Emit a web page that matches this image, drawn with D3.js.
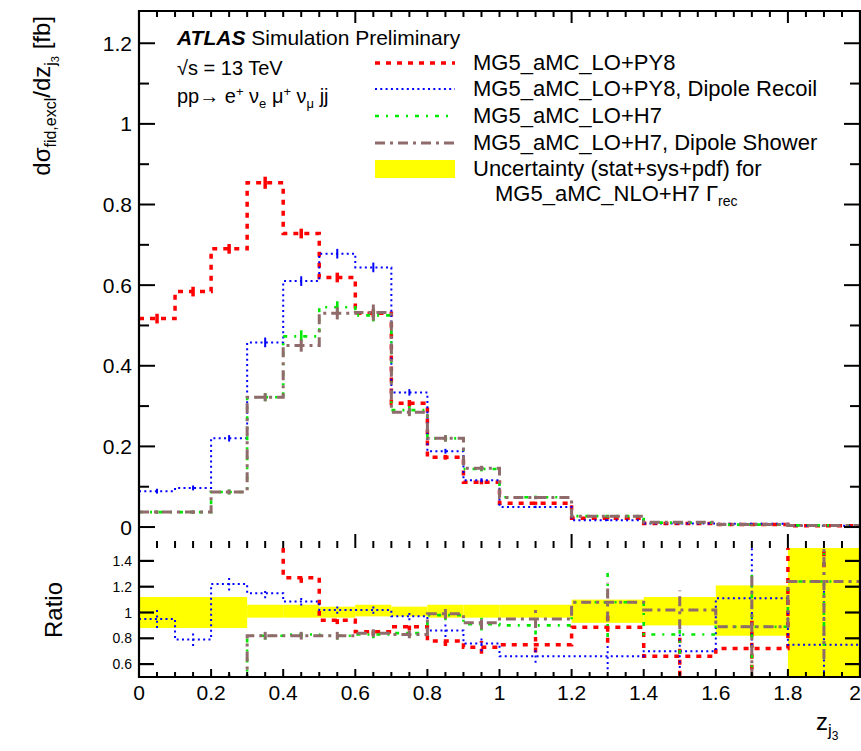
<!DOCTYPE html>
<html><head><meta charset="utf-8">
<script src="https://cdn.jsdelivr.net/npm/d3@7/dist/d3.min.js"></script>
<style>
html,body{margin:0;padding:0;background:#fff;overflow:hidden}
svg{display:block;font-family:"Liberation Sans",Arial,Helvetica,sans-serif}
</style></head><body>
<svg id="chart" width="861" height="751"></svg>
<script>
// Bin edges of z_j3 (10 narrow bins, then 5 wide bins)
const binEdges = [0, 0.1, 0.2, 0.3, 0.4, 0.5, 0.6, 0.7, 0.8, 0.9, 1.0, 1.2, 1.4, 1.6, 1.8, 2.0];

// Differential cross sections [fb] per bin
const xsPY8      = [0.517, 0.584, 0.690, 0.854, 0.728, 0.619, 0.530, 0.307, 0.173, 0.111, 0.059, 0.022, 0.009, 0.006, 0.003];
const xsPY8Dip   = [0.089, 0.097, 0.220, 0.458, 0.610, 0.678, 0.644, 0.334, 0.188, 0.116, 0.050, 0.017, 0.009, 0.008, 0.003];
const xsH7       = [0.037, 0.037, 0.087, 0.322, 0.473, 0.545, 0.525, 0.290, 0.220, 0.144, 0.074, 0.027, 0.011, 0.006, 0.004];
const xsH7Dip    = [0.037, 0.037, 0.087, 0.322, 0.450, 0.530, 0.532, 0.285, 0.220, 0.146, 0.073, 0.027, 0.012, 0.006, 0.004];

// Statistical errors on the cross sections
const errPY8     = [0.012, 0.012, 0.012, 0.015, 0.012, 0.012, 0.010, 0.008, 0.006, 0.005, 0.004, 0.003, 0.002, 0.002, 0.001];
const errPY8Dip  = [0.006, 0.006, 0.008, 0.012, 0.012, 0.012, 0.012, 0.008, 0.006, 0.005, 0.003, 0.002, 0.002, 0.002, 0.001];
const errH7      = [0.004, 0.004, 0.006, 0.010, 0.015, 0.015, 0.015, 0.010, 0.008, 0.006, 0.004, 0.003, 0.002, 0.002, 0.001];
const errH7Dip   = [0.004, 0.004, 0.006, 0.010, 0.015, 0.015, 0.020, 0.010, 0.008, 0.006, 0.004, 0.003, 0.002, 0.002, 0.001];

// Ratios to MG5_aMC_NLO+H7
const ratioPY8    = [5.50, 4.75, 3.83, 2.15, 1.27, 0.94, 0.85, 0.89, 0.78, 0.73, 0.75, 0.885, 0.66, 0.72, 1.70];
const ratioPY8Dip = [0.95, 0.79, 1.22, 1.15, 1.085, 1.02, 1.02, 0.97, 0.86, 0.76, 0.66, 0.66, 0.70, 1.11, 0.75];
const ratioH7     = [0.39, 0.30, 0.48, 0.82, 0.83, 0.82, 0.83, 0.84, 0.98, 0.91, 0.90, 1.08, 0.83, 0.89, 1.24];
const ratioH7Dip  = [0.39, 0.30, 0.48, 0.82, 0.82, 0.82, 0.84, 0.83, 0.99, 0.92, 0.95, 1.08, 1.02, 0.89, 1.24];

const rErrPY8     = [0.30, 0.30, 0.20, 0.08, 0.04, 0.03, 0.03, 0.03, 0.04, 0.05, 0.06, 0.12, 0.15, 0.25, 0.35];
const rErrPY8Dip  = [0.07, 0.05, 0.05, 0.04, 0.03, 0.03, 0.03, 0.03, 0.05, 0.06, 0.05, 0.10, 0.13, 0.45, 0.50];
const rErrH7      = [0.03, 0.03, 0.04, 0.03, 0.03, 0.03, 0.03, 0.03, 0.04, 0.05, 0.07, 0.27, 0.15, 0.40, 0.50];
const rErrH7Dip   = [0.03, 0.03, 0.04, 0.03, 0.03, 0.03, 0.03, 0.03, 0.04, 0.05, 0.07, 0.15, 0.15, 0.40, 0.60];

// NLO+H7 total uncertainty band (relative)
const bandHi = [1.12, 1.12, 1.12, 1.06, 1.06, 1.045, 1.06, 1.045, 1.06, 1.06, 1.06, 1.10, 1.12, 1.21, 1.60];
const bandLo = [0.88, 0.88, 0.88, 0.96, 0.96, 0.96, 0.97, 0.97, 0.96, 0.96, 0.96, 0.92, 0.90, 0.82, 0.40];

const xTicksLabels = [0, 0.2, 0.4, 0.6, 0.8, 1, 1.2, 1.4, 1.6, 1.8, 2];
const yTopLabels = [0, 0.2, 0.4, 0.6, 0.8, 1, 1.2];
const yRatioLabels = [0.6, 0.8, 1, 1.2, 1.4];

const series = [
  {label: "MG5_aMC_LO+PY8", color: "#ff0000", dash: "5,6", width: 3.5, xs: xsPY8, err: errPY8, ratio: ratioPY8, rerr: rErrPY8},
  {label: "MG5_aMC_LO+PY8, Dipole Recoil", color: "#0000ff", dash: "2,3.3", width: 2, xs: xsPY8Dip, err: errPY8Dip, ratio: ratioPY8Dip, rerr: rErrPY8Dip},
  {label: "MG5_aMC_LO+H7", color: "#00e800", dash: "4,7,2,7", width: 2.6, xs: xsH7, err: errH7, ratio: ratioH7, rerr: rErrH7},
  {label: "MG5_aMC_LO+H7, Dipole Shower", color: "#8f6b6b", dash: "10,5,3,5", width: 3, xs: xsH7Dip, err: errH7Dip, ratio: ratioH7Dip, rerr: rErrH7Dip}
];

const svg = d3.select("#chart");
svg.append("rect").attr("width", 861).attr("height", 751).attr("fill", "#fff");

const left = 139, right = 860, topY = 11, midY = 548, botY = 677;
const x = d3.scaleLinear().domain([0, 2]).range([left, right]);
const yTop = d3.scaleLinear().domain([-0.052, 1.28]).range([midY, topY]);
const yRat = d3.scaleLinear().domain([0.5, 1.5]).range([botY, midY]);

const defs = svg.append("defs");
defs.append("clipPath").attr("id", "clipTop").append("rect")
  .attr("x", left).attr("y", topY).attr("width", right - left).attr("height", midY - topY);
defs.append("clipPath").attr("id", "clipRat").append("rect")
  .attr("x", left).attr("y", midY).attr("width", right - left).attr("height", botY - midY);

const bins = d3.range(binEdges.length - 1).map(i => ({lo: binEdges[i], hi: binEdges[i + 1]}));

function stepPoints(vals) {
  const pts = [];
  bins.forEach((b, i) => { pts.push([b.lo, vals[i]]); pts.push([b.hi, vals[i]]); });
  return pts;
}

// ---------- ratio panel ----------
const gRat = svg.append("g").attr("clip-path", "url(#clipRat)");
gRat.selectAll("rect.band").data(bins).join("rect")
  .attr("x", d => x(d.lo)).attr("width", d => x(d.hi) - x(d.lo))
  .attr("y", (d, i) => yRat(bandHi[i]))
  .attr("height", (d, i) => yRat(bandLo[i]) - yRat(bandHi[i]))
  .attr("fill", "#ffff00");

const lineRat = d3.line().x(d => x(d[0])).y(d => yRat(d[1]));
const lineTop = d3.line().x(d => x(d[0])).y(d => yTop(d[1]));

const gTop = svg.append("g").attr("clip-path", "url(#clipTop)");

series.forEach(s => {
  // upper pad histogram with vertical error bars
  gTop.append("path").attr("d", lineTop(stepPoints(s.xs)))
    .attr("fill", "none").attr("stroke", s.color).attr("stroke-width", s.width)
    .attr("stroke-dasharray", s.dash);
  gTop.selectAll(null).data(bins).join("line")
    .attr("x1", d => x((d.lo + d.hi) / 2)).attr("x2", d => x((d.lo + d.hi) / 2))
    .attr("y1", (d, i) => yTop(s.xs[i] - s.err[i])).attr("y2", (d, i) => yTop(s.xs[i] + s.err[i]))
    .attr("stroke", s.color).attr("stroke-width", s.width);
  // ratio pad
  gRat.append("path").attr("d", lineRat(stepPoints(s.ratio)))
    .attr("fill", "none").attr("stroke", s.color).attr("stroke-width", s.width)
    .attr("stroke-dasharray", s.dash);
  gRat.selectAll(null).data(bins).join("line")
    .attr("x1", d => x((d.lo + d.hi) / 2)).attr("x2", d => x((d.lo + d.hi) / 2))
    .attr("y1", (d, i) => yRat(s.ratio[i] - s.rerr[i])).attr("y2", (d, i) => yRat(s.ratio[i] + s.rerr[i]))
    .attr("stroke", s.color).attr("stroke-width", s.width)
    .attr("stroke-dasharray", s.dash);
});

// ---------- axes & frame ----------
const axes = svg.append("g").attr("stroke", "#000").attr("fill", "none");
const fine = d3.range(0, 2.0001, 0.05);
const isMult = (v, m) => Math.abs(v / m - Math.round(v / m)) < 1e-6;

// upper pad frame (left, top, right)
axes.append("path").attr("d", `M${left},${midY}V${topY}H${right}V${midY}`).attr("stroke-width", 2.2);
// x ticks on the top edge and the bottom edge of the upper pad
fine.forEach(v => {
  const big = isMult(v, 0.6);
  axes.append("line").attr("x1", x(v)).attr("x2", x(v)).attr("y1", topY).attr("y2", topY + (big ? 12 : 6)).attr("stroke-width", 2);
  axes.append("line").attr("x1", x(v)).attr("x2", x(v)).attr("y1", midY).attr("y2", midY - (big ? 14 : 7)).attr("stroke-width", 2);
});
// y ticks of the upper pad
d3.range(0, 1.2801, 0.1).forEach(v => {
  const big = isMult(v, 0.2);
  const L = big ? 16 : 10;
  axes.append("line").attr("x1", left).attr("x2", left + L).attr("y1", yTop(v)).attr("y2", yTop(v)).attr("stroke-width", 2);
  axes.append("line").attr("x1", right).attr("x2", right - L).attr("y1", yTop(v)).attr("y2", yTop(v)).attr("stroke-width", 2);
});

// ratio frame (left, bottom, right)
axes.append("path").attr("d", `M${left},${midY}V${botY}H${right}V${midY}`).attr("stroke-width", 2.2);
fine.forEach(v => {
  const big = isMult(v, 0.2);
  axes.append("line").attr("x1", x(v)).attr("x2", x(v)).attr("y1", botY).attr("y2", botY - (big ? 8 : 5)).attr("stroke-width", 2);
});
yRatioLabels.forEach(v => {
  axes.append("line").attr("x1", left).attr("x2", left + 15).attr("y1", yRat(v)).attr("y2", yRat(v)).attr("stroke-width", 2.2);
  axes.append("line").attr("x1", right).attr("x2", right - 15).attr("y1", yRat(v)).attr("y2", yRat(v)).attr("stroke-width", 2.2);
});

// tick labels
const txt = svg.append("g").attr("fill", "#000");
yTopLabels.forEach(v => {
  txt.append("text").attr("x", 132).attr("y", yTop(v) + 7.5).attr("text-anchor", "end")
    .attr("font-size", 21).text(d3.format("~g")(v));
});
yRatioLabels.forEach(v => {
  txt.append("text").attr("x", 132).attr("y", yRat(v) + 5).attr("text-anchor", "end")
    .attr("font-size", 14).text(d3.format("~g")(v));
});
xTicksLabels.forEach((v, i) => {
  const last = i === xTicksLabels.length - 1;
  txt.append("text").attr("x", last ? 861 : x(v)).attr("y", 700)
    .attr("text-anchor", last ? "end" : "middle")
    .attr("font-size", 21).text(d3.format("~g")(v));
});

// axis titles
const yt = txt.append("text").attr("transform", "translate(50,16) rotate(-90)")
  .attr("text-anchor", "end").attr("font-size", 24);
yt.append("tspan").text("dσ");
yt.append("tspan").attr("font-size", 16).attr("dy", 6).text("fid,excl");
yt.append("tspan").attr("dy", -6).text("/dz");
yt.append("tspan").attr("font-size", 16).attr("dy", 6).text("j");
yt.append("tspan").attr("font-size", 11).attr("dy", 3).text("3");
yt.append("tspan").attr("dy", -9).text(" [fb]");

txt.append("text").attr("transform", "translate(62,610) rotate(-90)")
  .attr("text-anchor", "middle").attr("font-size", 24).text("Ratio");

const xt = txt.append("text").attr("x", 816).attr("y", 730).attr("font-size", 24);
xt.append("tspan").text("z");
xt.append("tspan").attr("font-size", 17).attr("dy", 6).text("j");
xt.append("tspan").attr("font-size", 12).attr("dy", 4).text("3");

// ATLAS label
const at = txt.append("text").attr("x", 177).attr("y", 45).attr("font-size", 21);
at.append("tspan").attr("font-weight", "bold").attr("font-style", "italic").text("ATLAS");
at.append("tspan").text(" Simulation Preliminary");
txt.append("text").attr("x", 177).attr("y", 75).attr("font-size", 20).text("√s = 13 TeV");
const pr = txt.append("text").attr("x", 177).attr("y", 103).attr("font-size", 20);
pr.append("tspan").text("pp→ e");
pr.append("tspan").attr("font-size", 13).attr("dy", -7).text("+");
pr.append("tspan").attr("dy", 7).text(" ν");
pr.append("tspan").attr("font-size", 13).attr("dy", 5).text("e");
pr.append("tspan").attr("dy", -5).text(" μ");
pr.append("tspan").attr("font-size", 13).attr("dy", -7).text("+");
pr.append("tspan").attr("dy", 7).text(" ν");
pr.append("tspan").attr("font-size", 13).attr("dy", 5).text("μ");
pr.append("tspan").attr("dy", -5).text(" jj");

// legend
const legY = [63, 89, 116, 143];
series.forEach((s, i) => {
  svg.append("line").attr("x1", 375).attr("x2", 455).attr("y1", legY[i]).attr("y2", legY[i])
    .attr("stroke", s.color).attr("stroke-width", s.width).attr("stroke-dasharray", s.dash);
  txt.append("text").attr("x", 473).attr("y", legY[i] + 7).attr("font-size", 22).text(s.label);
});
svg.append("rect").attr("x", 375).attr("y", 160).attr("width", 80).attr("height", 18).attr("fill", "#ffff00");
txt.append("text").attr("x", 473).attr("y", 176).attr("font-size", 22).text("Uncertainty (stat+sys+pdf) for");
const l6 = txt.append("text").attr("x", 495).attr("y", 201).attr("font-size", 22);
l6.append("tspan").text("MG5_aMC_NLO+H7 Γ");
l6.append("tspan").attr("font-size", 14).attr("dy", 5).text("rec");
</script>
</body></html>
